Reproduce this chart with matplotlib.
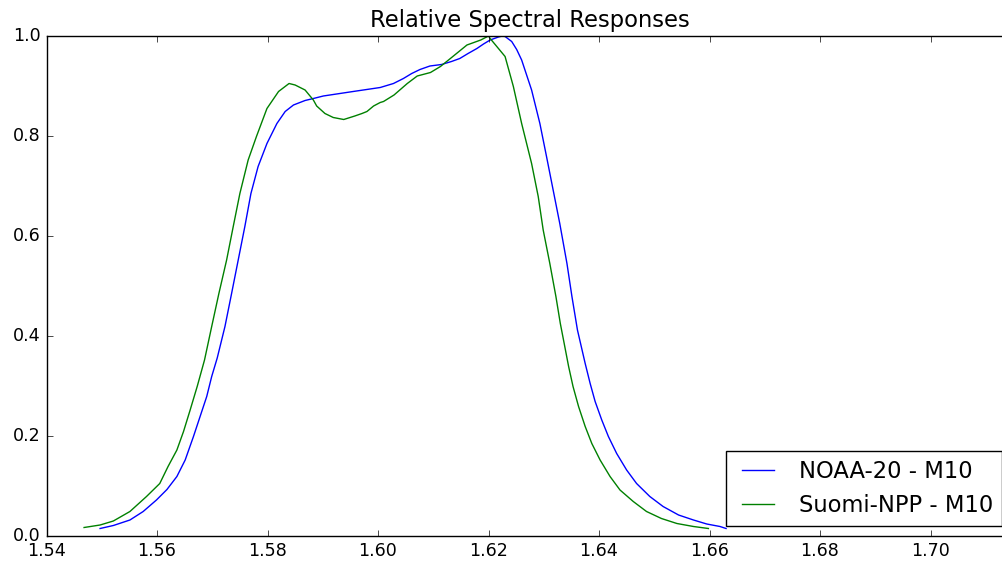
import matplotlib
matplotlib.use("Agg")
import matplotlib.pyplot as plt

# Relative spectral response curves for band M10 (wavelength in micrometres)
noaa20_wl = [1.5497, 1.5521, 1.5551, 1.5575, 1.5599, 1.5618, 1.5636, 1.5651,
             1.5666, 1.5678, 1.5690, 1.5699, 1.5709, 1.5723, 1.5735, 1.5747,
             1.5759, 1.5770, 1.5783, 1.5799, 1.5817, 1.5832, 1.5847, 1.5868,
             1.5883, 1.5901, 1.5955, 1.6004, 1.6028, 1.6046, 1.6061, 1.6076,
             1.6094, 1.6115, 1.6133, 1.6148, 1.6163, 1.6179, 1.6191, 1.6203,
             1.6218, 1.6225, 1.6230, 1.6242, 1.6251, 1.6260, 1.6278, 1.6293,
             1.6305, 1.6317, 1.6329, 1.6342, 1.6351, 1.6361, 1.6375, 1.6384,
             1.6393, 1.6405, 1.6417, 1.6432, 1.6450, 1.6468, 1.6492, 1.6516,
             1.6544, 1.6571, 1.6595, 1.6619, 1.6630]
noaa20_rsr = [0.015, 0.021, 0.032, 0.049, 0.072, 0.093, 0.119, 0.152,
              0.199, 0.239, 0.279, 0.319, 0.356, 0.419, 0.485, 0.552,
              0.619, 0.685, 0.739, 0.785, 0.825, 0.849, 0.862, 0.871,
              0.875, 0.880, 0.889, 0.897, 0.905, 0.915, 0.925, 0.933,
              0.940, 0.943, 0.949, 0.955, 0.965, 0.975, 0.984, 0.992,
              0.998, 1.000, 0.999, 0.989, 0.973, 0.952, 0.892, 0.825,
              0.759, 0.692, 0.625, 0.545, 0.479, 0.412, 0.345, 0.305,
              0.269, 0.232, 0.199, 0.165, 0.132, 0.105, 0.079, 0.059,
              0.042, 0.032, 0.024, 0.019, 0.015]

snpp_wl = [1.5468, 1.5497, 1.5521, 1.5551, 1.5581, 1.5605, 1.5620, 1.5636,
           1.5648, 1.5660, 1.5673, 1.5686, 1.5699, 1.5712, 1.5726, 1.5738,
           1.5750, 1.5765, 1.5780, 1.5799, 1.5820, 1.5839, 1.5850, 1.5868,
           1.5883, 1.5889, 1.5904, 1.5919, 1.5938, 1.5958, 1.5971, 1.5980,
           1.5992, 1.6004, 1.6010, 1.6029, 1.6053, 1.6071, 1.6095, 1.6113,
           1.6131, 1.6161, 1.6186, 1.6200, 1.6203, 1.6215, 1.6230, 1.6245,
           1.6260, 1.6278, 1.6290, 1.6299, 1.6311, 1.6322, 1.6330, 1.6337,
           1.6345, 1.6353, 1.6363, 1.6375, 1.6387, 1.6402, 1.6420, 1.6438,
           1.6462, 1.6486, 1.6513, 1.6541, 1.6571, 1.6598]
snpp_rsr = [0.017, 0.022, 0.030, 0.049, 0.079, 0.105, 0.139, 0.172,
            0.209, 0.252, 0.300, 0.352, 0.419, 0.485, 0.552, 0.619,
            0.685, 0.752, 0.799, 0.855, 0.889, 0.905, 0.902, 0.892,
            0.872, 0.860, 0.845, 0.837, 0.833, 0.840, 0.845, 0.849,
            0.860, 0.867, 0.869, 0.882, 0.905, 0.920, 0.927, 0.939,
            0.955, 0.982, 0.992, 1.000, 0.995, 0.979, 0.959, 0.899,
            0.825, 0.745, 0.679, 0.612, 0.545, 0.479, 0.425, 0.385,
            0.339, 0.299, 0.259, 0.219, 0.185, 0.152, 0.119, 0.092,
            0.069, 0.049, 0.035, 0.025, 0.019, 0.015]

xticks = [1.54, 1.56, 1.58, 1.60, 1.62, 1.64, 1.66, 1.68, 1.70]
yticks = [0.0, 0.2, 0.4, 0.6, 0.8, 1.0]

plt.style.use('classic')
fig = plt.figure(figsize=(10.03, 5.64), dpi=100, facecolor='white')
ax = fig.add_axes([46.5 / 1003, 28 / 564, 966 / 1003, 500 / 564])

ax.plot(noaa20_wl, noaa20_rsr, color='b', linewidth=1.0, label='NOAA-20 - M10')
ax.plot(snpp_wl, snpp_rsr, color='g', linewidth=1.0, label='Suomi-NPP - M10')

ax.set_xlim(1.54, 1.54 + 966 / 5525)
ax.set_ylim(0.0, 1.0)
ax.set_xticks(xticks)
ax.set_yticks(yticks)
ax.set_xticklabels(['%.2f' % v for v in xticks])
ax.set_yticklabels(['%.1f' % v for v in yticks])
ax.tick_params(labelsize=12.6)
ax.set_title('Relative Spectral Responses', fontsize=16.3, y=1.005)

leg = ax.legend(loc='lower right', bbox_to_anchor=(1002 / 1003, 38 / 564),
                bbox_transform=fig.transFigure, borderaxespad=0,
                fontsize=16.3, handlelength=2.0, handletextpad=0.8,
                borderpad=0.4)
leg.get_frame().set_edgecolor('black')

fig.savefig('out.png', dpi=100, facecolor='white')
